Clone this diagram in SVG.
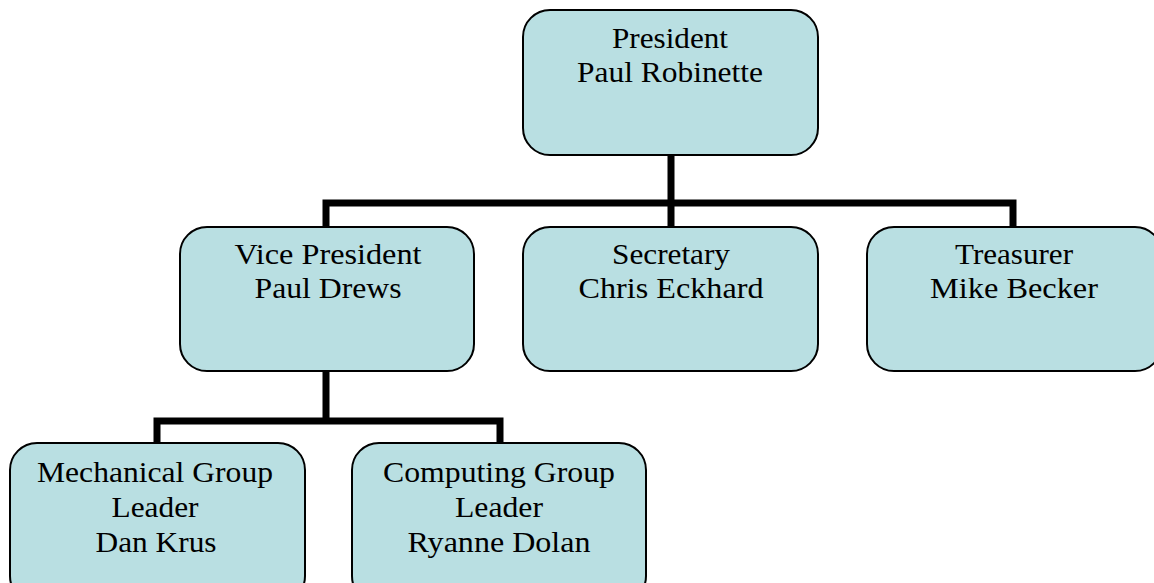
<svg xmlns="http://www.w3.org/2000/svg" width="1154" height="583" viewBox="0 0 1154 583">
<style>
.box{fill:#B9DFE2;stroke:#000;stroke-width:2}
.t{font-family:"Liberation Serif","Times New Roman",serif;font-size:30px;fill:#000;text-anchor:middle}
.c{fill:none;stroke:#000;stroke-width:7;stroke-linejoin:miter}
</style>
<rect width="1154" height="583" fill="#fff"/>
<g id="connectors">
<path class="c" d="M671,155 V203 M326,227 V203 H1013 V227 M671,203 V227"/>
<path class="c" d="M326,371 V421 M157,443 V421 H500 V443"/>
</g>
<g id="president">
<rect class="box" x="523" y="10" width="295" height="145" rx="27"/>
<text class="t" x="670" y="48" textLength="116" lengthAdjust="spacingAndGlyphs">President</text>
<text class="t" x="670" y="82" textLength="186" lengthAdjust="spacingAndGlyphs">Paul Robinette</text>
</g>
<g id="vice-president">
<rect class="box" x="180" y="227" width="294" height="144" rx="27"/>
<text class="t" x="328" y="264" textLength="187" lengthAdjust="spacingAndGlyphs">Vice President</text>
<text class="t" x="328" y="298" textLength="147" lengthAdjust="spacingAndGlyphs">Paul Drews</text>
</g>
<g id="secretary">
<rect class="box" x="523" y="227" width="295" height="144" rx="27"/>
<text class="t" x="671" y="264" textLength="118" lengthAdjust="spacingAndGlyphs">Secretary</text>
<text class="t" x="671" y="298" textLength="185" lengthAdjust="spacingAndGlyphs">Chris Eckhard</text>
</g>
<g id="treasurer">
<rect class="box" x="867" y="227" width="295" height="144" rx="27"/>
<text class="t" x="1014" y="264" textLength="118" lengthAdjust="spacingAndGlyphs">Treasurer</text>
<text class="t" x="1014" y="298" textLength="168" lengthAdjust="spacingAndGlyphs">Mike Becker</text>
</g>
<g id="mechanical">
<rect class="box" x="10" y="443" width="295" height="160" rx="27"/>
<text class="t" x="155" y="482" textLength="236" lengthAdjust="spacingAndGlyphs">Mechanical Group</text>
<text class="t" x="155" y="517" textLength="87" lengthAdjust="spacingAndGlyphs">Leader</text>
<text class="t" x="156" y="552" textLength="121" lengthAdjust="spacingAndGlyphs">Dan Krus</text>
</g>
<g id="computing">
<rect class="box" x="352" y="443" width="294" height="160" rx="27"/>
<text class="t" x="499" y="482" textLength="232" lengthAdjust="spacingAndGlyphs">Computing Group</text>
<text class="t" x="499" y="517" textLength="88" lengthAdjust="spacingAndGlyphs">Leader</text>
<text class="t" x="499" y="552" textLength="183" lengthAdjust="spacingAndGlyphs">Ryanne Dolan</text>
</g>
</svg>
